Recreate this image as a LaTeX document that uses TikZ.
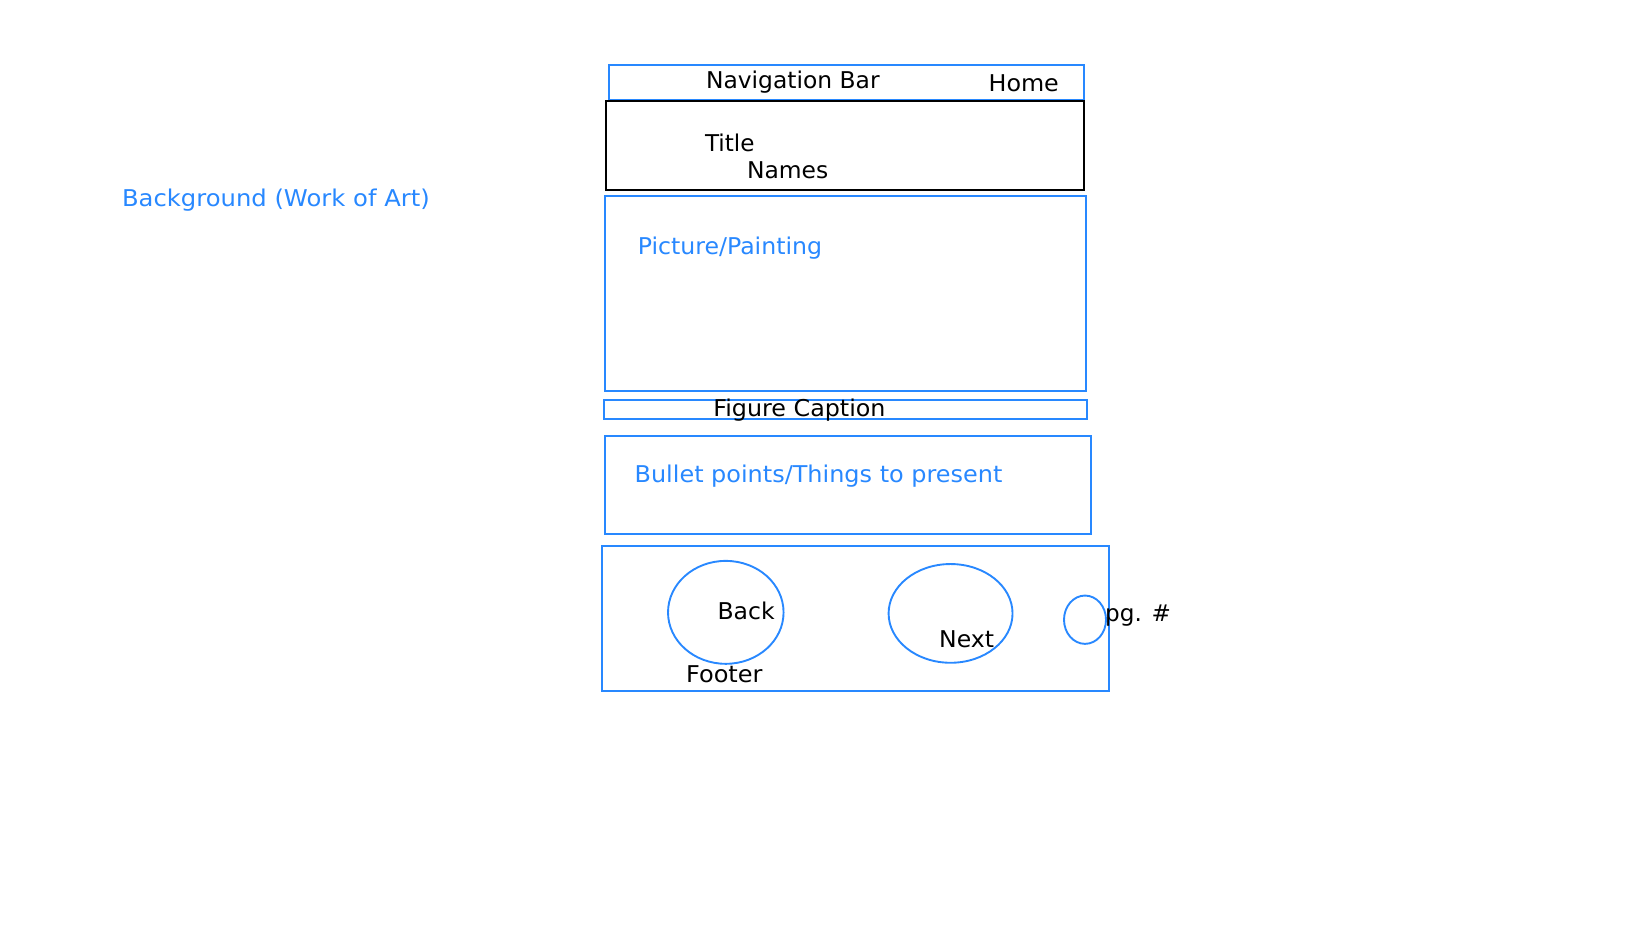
\documentclass[tikz,border=0pt]{standalone}
\usepackage{fontspec}
\setmainfont{DejaVu Sans}
\usetikzlibrary{shapes.geometric}
\definecolor{wfblue}{RGB}{40,136,255}
\begin{document}
\begin{tikzpicture}[x=1pt,y=-1pt,
  box/.style={draw=wfblue,line width=1.8pt,inner sep=0pt,outer sep=0pt,anchor=north west},
  blk/.style={draw=black,line width=1.8pt,inner sep=0pt,outer sep=0pt,anchor=north west},
  oval/.style={draw=wfblue,line width=1.8pt,ellipse,inner sep=0pt},
  lbl/.style={anchor=base west,inner sep=0pt,font=\fontsize{22}{26}\selectfont},
  blbl/.style={lbl,text=wfblue}]
\useasboundingbox (0,0) rectangle (1569,882.6);
% boxes
\node[box, minimum width=452pt, minimum height=33pt] (nav) at (580,62) {};
\node[blk, minimum width=455pt, minimum height=85pt] (titlebox) at (577,96) {};
\node[box, minimum width=458pt, minimum height=185pt] (pic) at (576,187) {};
\node[box, minimum width=460pt, minimum height=18pt] (cap) at (575,381) {};
\node[box, minimum width=463pt, minimum height=93pt] (bullets) at (576,415) {};
\node[box, minimum width=483pt, minimum height=138pt] (footer) at (573,520) {};
% ovals
\node[oval, minimum width=110pt, minimum height=98pt] (back) at (691,583) {};
\node[oval, minimum width=118pt, minimum height=94pt] (next) at (905,584) {};
\node[oval, minimum width=40pt, minimum height=46pt] (pg) at (1033,590) {};
% labels
\node[lbl] (navt) at (672,84) {\scalebox{1.012}[1]{Navigation Bar}};
\node[lbl] (home) at (941,87) {\scalebox{1.03}[1]{Home}};
\node[lbl] (title) at (671,144) {Title};
\node[lbl] (names) at (711,170) {\scalebox{1.013}[1]{Names}};
\node[blbl] (bg) at (116,197) {\scalebox{1.05}[1]{Background (Work of Art)}};
\node[blbl] (pict) at (607,242) {\scalebox{1.023}[1]{Picture/Painting}};
\node[lbl] (capt) at (679,397) {\scalebox{1.03}[1]{Figure Caption}};
\node[blbl] (bult) at (604,459) {\scalebox{1.036}[1]{Bullet points/Things to present}};
\node[lbl] (backt) at (683,590) {\scalebox{1.018}[1]{Back}};
\node[lbl] (nextt) at (894,616) {\scalebox{1.019}[1]{Next}};
\node[lbl] (pgt) at (1052,592) {pg. \#};
\node[lbl] (foot) at (653,650) {\scalebox{1.04}[1]{Footer}};
\end{tikzpicture}
\end{document}
